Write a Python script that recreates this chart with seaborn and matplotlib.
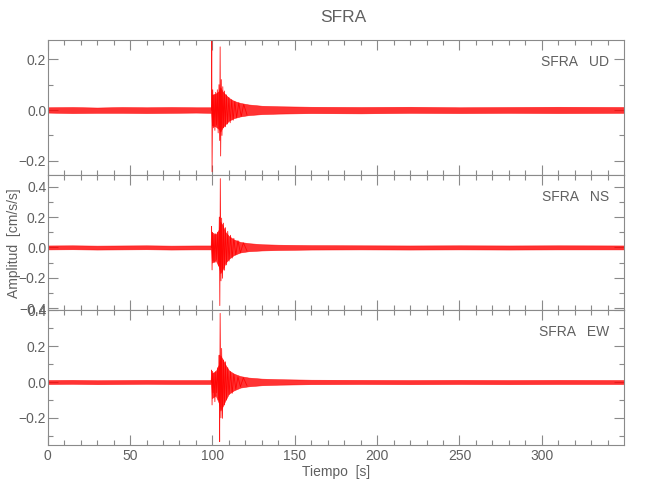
import pandas as pd
import matplotlib
matplotlib.use("Agg")
import matplotlib.pyplot as plt
import seaborn as sns
from matplotlib.ticker import MultipleLocator, FuncFormatter

estacion = "SFRA"
componentes = ["UD", "NS", "EW"]

# envolvente del ruido y de la coda, tiempos en s
t_env = [0, 15, 30, 45, 60, 75, 90, 99.3, 99.7, 102, 104.0, 104.8, 106, 108, 110,
         113, 117, 122, 130, 140, 160, 190, 220, 250, 280, 310, 350]

ud_sup = [0.011, 0.012, 0.010, 0.012, 0.011, 0.012, 0.011, 0.011, 0.06, 0.065, 0.075,
          0.09, 0.075, 0.06, 0.048, 0.036, 0.028, 0.022, 0.017, 0.015, 0.013, 0.012,
          0.013, 0.011, 0.012, 0.013, 0.012]
ud_inf = [-0.010, -0.012, -0.011, -0.011, -0.012, -0.011, -0.010, -0.011, -0.06, -0.065,
          -0.075, -0.085, -0.07, -0.055, -0.042, -0.032, -0.025, -0.02, -0.016, -0.014,
          -0.012, -0.013, -0.011, -0.012, -0.011, -0.012, -0.011]

ns_sup = [0.013, 0.014, 0.012, 0.013, 0.014, 0.012, 0.013, 0.013, 0.1, 0.085, 0.12,
          0.17, 0.15, 0.1, 0.075, 0.052, 0.036, 0.028, 0.021, 0.018, 0.015, 0.014,
          0.013, 0.014, 0.013, 0.014, 0.013]
ns_inf = [-0.013, -0.012, -0.014, -0.013, -0.012, -0.014, -0.013, -0.013, -0.1, -0.085,
          -0.13, -0.17, -0.15, -0.1, -0.075, -0.05, -0.033, -0.025, -0.02, -0.017,
          -0.014, -0.013, -0.014, -0.013, -0.014, -0.013, -0.013]

ew_sup = [0.011, 0.012, 0.010, 0.011, 0.012, 0.011, 0.011, 0.011, 0.05, 0.06, 0.1,
          0.15, 0.13, 0.095, 0.065, 0.047, 0.033, 0.025, 0.019, 0.016, 0.013, 0.012,
          0.011, 0.012, 0.011, 0.012, 0.011]
ew_inf = [-0.011, -0.010, -0.012, -0.011, -0.010, -0.011, -0.011, -0.011, -0.09, -0.075,
          -0.12, -0.16, -0.14, -0.1, -0.065, -0.047, -0.031, -0.024, -0.018, -0.015,
          -0.012, -0.011, -0.012, -0.011, -0.012, -0.011, -0.011]

# picos principales (onda P y S)
ud_t = [99.4, 99.6, 99.8, 100.2, 100.6, 101.0, 101.5, 102.0, 102.5, 103.0, 103.5,
        104.0, 104.4, 104.7, 105.0, 105.4, 105.8, 106.3, 106.8, 107.3, 107.9, 108.5,
        109.2, 110.0, 110.8, 111.7, 112.6, 113.6, 114.7, 116.0, 117.5, 119.0, 121.0]
ud_v = [0.0, 0.276, -0.243, 0.08, -0.07, 0.06, -0.08, 0.07, -0.06, 0.08, -0.09,
        0.1, -0.12, 0.249, -0.181, 0.12, -0.1, 0.092, -0.07, 0.075, -0.066, 0.06,
        -0.055, 0.05, -0.05, 0.04, -0.04, 0.035, -0.03, 0.028, -0.025, 0.022, -0.018]

ns_t = [99.3, 99.5, 99.8, 100.1, 100.5, 101.0, 101.5, 102.0, 102.6, 103.2, 103.8,
        104.2, 104.5, 104.8, 105.2, 105.6, 106.1, 106.7, 107.3, 107.9, 108.6, 109.3,
        110.1, 111.0, 112.0, 113.0, 114.2, 115.5, 117.0, 118.8, 121.0]
ns_v = [0.0, 0.139, -0.148, 0.1, -0.09, 0.08, -0.1, 0.09, -0.08, 0.1, -0.12,
        0.2, -0.383, 0.453, -0.22, 0.193, -0.203, 0.16, -0.15, 0.13, -0.115, 0.106,
        -0.09, 0.08, -0.07, 0.06, -0.05, 0.045, -0.035, 0.03, -0.022]

ew_t = [99.3, 99.5, 99.8, 100.1, 100.5, 101.0, 101.5, 102.0, 102.6, 103.2, 103.8,
        104.1, 104.4, 104.7, 105.2, 105.6, 106.1, 106.7, 107.3, 107.9, 108.6, 109.3,
        110.1, 111.0, 112.0, 113.0, 114.2, 115.5, 117.0, 118.8, 121.0]
ew_v = [0.0, 0.067, -0.128, 0.06, -0.06, 0.05, -0.11, 0.06, -0.06, 0.08, -0.1,
        0.15, -0.333, 0.384, -0.2, 0.188, -0.203, 0.123, -0.128, 0.113, -0.1, 0.08,
        -0.07, 0.058, -0.063, 0.045, -0.04, 0.03, -0.026, 0.024, -0.02]

limites_y = [(-0.257, 0.276), (-0.414, 0.475), (-0.352, 0.401)]

sup = [ud_sup, ns_sup, ew_sup]
inf = [ud_inf, ns_inf, ew_inf]
picos_t = [ud_t, ns_t, ew_t]
picos_v = [ud_v, ns_v, ew_v]

sns.set_theme(style="white")
plt.rcParams['font.family'] = ['Liberation Sans Narrow', 'Liberation Sans', 'DejaVu Sans']

gris_eje = "#8a8a8a"
gris_txt = "#606060"
rojo = "#ff0000"

fig = plt.figure(figsize=(6.5, 5), dpi=100)
fig.patch.set_facecolor("white")

izq = 47.7 / 650
ancho = (624 - 47.7) / 650
bordes = [40, 175.3, 310.3, 445]

menos = FuncFormatter(lambda v, p: f"{v:.1f}".replace("-", "\u2212"))

axes = []
for i in range(3):
    y0 = 1 - bordes[i + 1] / 500
    alto = (bordes[i + 1] - bordes[i]) / 500
    ax = fig.add_axes([izq, y0, ancho, alto])
    axes.append(ax)

    ax.fill_between(t_env, inf[i], sup[i], color=rojo, lw=0.4, alpha=0.8)
    df = pd.DataFrame({"t": picos_t[i], "a": picos_v[i]})
    sns.lineplot(data=df, x="t", y="a", ax=ax, color=rojo, lw=0.6, alpha=0.9,
                 sort=False, estimator=None)

    ax.set_xlim(0, 349.9)
    ax.set_ylim(*limites_y[i])
    ax.set_xlabel("")
    ax.set_ylabel("")
    ax.xaxis.set_major_locator(MultipleLocator(50))
    ax.xaxis.set_minor_locator(MultipleLocator(10))
    ax.yaxis.set_major_locator(MultipleLocator(0.2))
    ax.yaxis.set_minor_locator(MultipleLocator(0.1))
    ax.yaxis.set_major_formatter(menos)
    ax.tick_params(which="both", direction="in", top=True, right=True,
                   bottom=True, left=True, color=gris_eje, labelcolor=gris_txt,
                   labelsize=10)
    ax.tick_params(which="major", length=7.5, width=0.8)
    ax.tick_params(which="minor", length=3.8, width=0.8)
    ax.tick_params(axis="y", pad=1)
    ax.tick_params(axis="x", pad=3)
    if i < 2:
        ax.tick_params(axis="x", labelbottom=False)
    for s in ax.spines.values():
        s.set_color(gris_eje)
        s.set_linewidth(0.8)
    ax.text(0.974, 0.84, f"{estacion}   {componentes[i]}", transform=ax.transAxes,
            ha="right", va="center", fontsize=10, color=gris_txt)

fig.text(343 / 650, 1 - 18 / 500, estacion, ha="center", va="center",
         fontsize=12.5, color=gris_txt)
fig.text(336 / 650, 1 - 472 / 500, "Tiempo  [s]", ha="center", va="center",
         fontsize=10, color=gris_txt)
fig.text(14 / 650, 1 - 243 / 500, "Amplitud  [cm/s/s]", ha="center", va="center",
         rotation=90, fontsize=10, color=gris_txt)

fig.savefig("out.png", dpi=100, facecolor="white")
